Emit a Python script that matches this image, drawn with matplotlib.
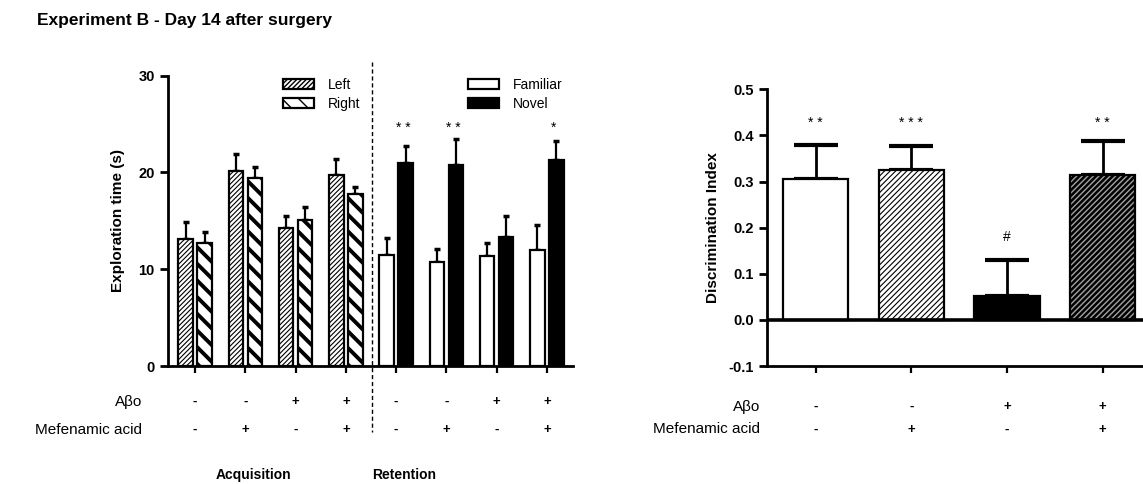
import matplotlib.pyplot as plt
import matplotlib.patches as mpatches
import matplotlib.lines as mlines
import numpy as np

# ---- data ----
acq_left = [13.1, 20.2, 14.3, 19.7]
acq_left_err = [1.75, 1.7, 1.2, 1.7]
acq_right = [12.75, 19.4, 15.05, 17.8]
acq_right_err = [1.05, 1.2, 1.35, 0.65]
ret_familiar = [11.5, 10.75, 11.4, 12.0]
ret_familiar_err = [1.7, 1.35, 1.35, 2.6]
ret_novel = [20.95, 20.8, 13.3, 21.3]
ret_novel_err = [1.75, 2.7, 2.2, 2.0]
ret_stars = ['* *', '* *', '', '*']

abo_signs = ['-', '-', '+', '+']
mef_signs = ['-', '+', '-', '+']

disc_index = [0.305, 0.325, 0.052, 0.314]
disc_err = [0.074, 0.051, 0.078, 0.073]
disc_marks = ['* *', '* * *', '#', '* *']

plt.rcParams['font.family'] = ['Liberation Sans', 'DejaVu Sans']
plt.rcParams['hatch.color'] = 'black'

W, H = 1143, 484
fig = plt.figure(figsize=(W / 100, H / 100), dpi=100)


def fx(px):
    return px / W


def fy(py):
    return 1 - py / H


# ---------------- left panel ----------------
ax1 = fig.add_axes([fx(168), fy(366), fx(573) - fx(168), fy(75.7) - fy(366)])
groups = np.arange(8)
acq = groups[:4]
ret = groups[4:]
bw = 0.29
off = 0.19

plt.rcParams['hatch.linewidth'] = 0.8
ax1.bar(acq - off, acq_left, bw, color='white', edgecolor='black', lw=1.6,
        hatch='///////', zorder=3)
plt.rcParams['hatch.linewidth'] = 2.8
ax1.bar(acq + off, acq_right, bw, color='white', edgecolor='black', lw=1.6,
        hatch='\\\\', zorder=3)
plt.rcParams['hatch.linewidth'] = 1.0
ax1.bar(ret - off, ret_familiar, bw, color='white', edgecolor='black', lw=1.6, zorder=3)
ax1.bar(ret + off, ret_novel, bw, color='black', edgecolor='black', lw=1.6, zorder=3)

for xs, ys, es in [(acq - off, acq_left, acq_left_err), (acq + off, acq_right, acq_right_err),
                   (ret - off, ret_familiar, ret_familiar_err), (ret + off, ret_novel, ret_novel_err)]:
    ax1.errorbar(xs, ys, yerr=[np.zeros(len(es)), es], fmt='none', ecolor='black',
                 elinewidth=1.6, capsize=2.5, capthick=2.5, zorder=2)

for x, s in zip(ret + off, ret_stars):
    ax1.text(x - 0.05, 24.6, s, ha='center', va='center', fontsize=10)

ax1.set_ylim(0, 30)
ax1.set_xlim(-0.54, 7.52)
ax1.set_yticks([0, 10, 20, 30])
ax1.set_xticks(groups)
ax1.set_xticklabels([])
ax1.spines[['top', 'right']].set_visible(False)
ax1.spines[['left', 'bottom']].set_linewidth(2)
ax1.tick_params(axis='both', direction='out', width=2, length=6)
ax1.tick_params(axis='x', length=5, width=1.6)
for lab in ax1.get_yticklabels():
    lab.set_fontweight('bold')
    lab.set_fontsize(10.5)
ax1.set_ylabel('Exploration time (s)', fontsize=11, fontweight='bold', labelpad=10)

# legends
plt.rcParams['hatch.linewidth'] = 0.8
h_left = mpatches.Patch(facecolor='white', edgecolor='black', lw=1.6, hatch='///////')
plt.rcParams['hatch.linewidth'] = 2.8
h_right = mpatches.Patch(facecolor='white', edgecolor='black', lw=1.6, hatch='\\\\')
plt.rcParams['hatch.linewidth'] = 1.0
leg1 = ax1.legend([h_left, h_right], ['Left', 'Right'], loc='upper left',
                  bbox_to_anchor=(fx(276), fy(71)), bbox_transform=fig.transFigure,
                  frameon=False, fontsize=10, handlelength=2.2, handleheight=0.75,
                  borderpad=0, labelspacing=0.35, handletextpad=1.0)
ax1.add_artist(leg1)
h_fam = mpatches.Patch(facecolor='white', edgecolor='black', lw=1.6)
h_nov = mpatches.Patch(facecolor='black', edgecolor='black', lw=1.6)
ax1.legend([h_fam, h_nov], ['Familiar', 'Novel'], loc='upper left',
           bbox_to_anchor=(fx(461), fy(71)), bbox_transform=fig.transFigure,
           frameon=False, fontsize=10, handlelength=2.2, handleheight=0.75,
           borderpad=0, labelspacing=0.35, handletextpad=1.0)

# treatment rows
for x, a, m in zip(groups, abo_signs * 2, mef_signs * 2):
    ax1.text(x, -0.124, a, transform=ax1.get_xaxis_transform(), ha='center', va='center',
             fontsize=9.5, fontweight='bold')
    ax1.text(x, -0.22, m, transform=ax1.get_xaxis_transform(), ha='center', va='center',
             fontsize=9.5, fontweight='bold')
fig.text(fx(142), fy(402), 'Aβo', ha='right', va='center', fontsize=11)
fig.text(fx(142), fy(430), 'Mefenamic acid', ha='right', va='center', fontsize=11)
fig.text(fx(253), fy(475), 'Acquisition', ha='center', va='center', fontsize=10, fontweight='bold')
fig.text(fx(404), fy(475), 'Retention', ha='center', va='center', fontsize=10, fontweight='bold')

fig.add_artist(mlines.Line2D([fx(372), fx(372)], [fy(62), fy(432)], color='black',
                             lw=1, ls=(0, (3, 2)), transform=fig.transFigure))

fig.text(fx(37), fy(20), 'Experiment B - Day 14 after surgery', ha='left', va='center',
         fontsize=12.5, fontweight='bold')

# ---------------- right panel ----------------
ax2 = fig.add_axes([fx(767), fy(366), 1 - fx(767), fy(89.3) - fy(366)])
xs = np.arange(4)
bw2 = 0.68
ax2.bar(xs[0], disc_index[0], bw2, color='white', edgecolor='black', lw=1.6, zorder=3)
plt.rcParams['hatch.linewidth'] = 0.8
ax2.bar(xs[1], disc_index[1], bw2, color='white', edgecolor='black', lw=1.6,
        hatch='//////', zorder=3)
ax2.bar(xs[2], disc_index[2], bw2, color='black', edgecolor='black', lw=1.6, zorder=3)
plt.rcParams['hatch.linewidth'] = 1.8
ax2.bar(xs[3], disc_index[3], bw2, color='#a0a0a0', edgecolor='black', lw=1.6,
        hatch='//////', zorder=3)
plt.rcParams['hatch.linewidth'] = 1.0
ax2.errorbar(xs, disc_index, yerr=[np.zeros(4), disc_err], fmt='none', ecolor='black',
             elinewidth=2, capsize=16, capthick=3, zorder=2)
ax2.axhline(0, color='black', lw=2.6, zorder=4)
for x, y, s in zip(xs, disc_index, disc_marks):
    ypos = 0.18 if s == '#' else 0.427
    ax2.text(x, ypos, s, ha='center', va='center', fontsize=10)

ax2.set_ylim(-0.1, 0.5)
ax2.set_xlim(-0.507, 3.42)
ax2.set_yticks([-0.1, 0.0, 0.1, 0.2, 0.3, 0.4, 0.5])
ax2.set_yticklabels(['-0.1', '0.0', '0.1', '0.2', '0.3', '0.4', '0.5'])
ax2.set_xticks(xs)
ax2.set_xticklabels([])
ax2.spines[['top', 'right']].set_visible(False)
ax2.spines[['left', 'bottom']].set_linewidth(2)
ax2.tick_params(axis='both', direction='out', width=2, length=6)
ax2.tick_params(axis='x', length=5, width=1.6, pad=2)
for lab in ax2.get_yticklabels():
    lab.set_fontweight('bold')
    lab.set_fontsize(10.5)
ax2.set_ylabel('Discrimination Index', fontsize=11, fontweight='bold', labelpad=6)

for x, a, m in zip(xs, abo_signs, mef_signs):
    ax2.text(x, -0.148, a, transform=ax2.get_xaxis_transform(), ha='center', va='center',
             fontsize=9.5, fontweight='bold')
    ax2.text(x, -0.23, m, transform=ax2.get_xaxis_transform(), ha='center', va='center',
             fontsize=9.5, fontweight='bold')
fig.text(fx(760), fy(407), 'Aβo', ha='right', va='center', fontsize=11)
fig.text(fx(760), fy(429), 'Mefenamic acid', ha='right', va='center', fontsize=11)

fig.savefig('out.png', dpi=100)
